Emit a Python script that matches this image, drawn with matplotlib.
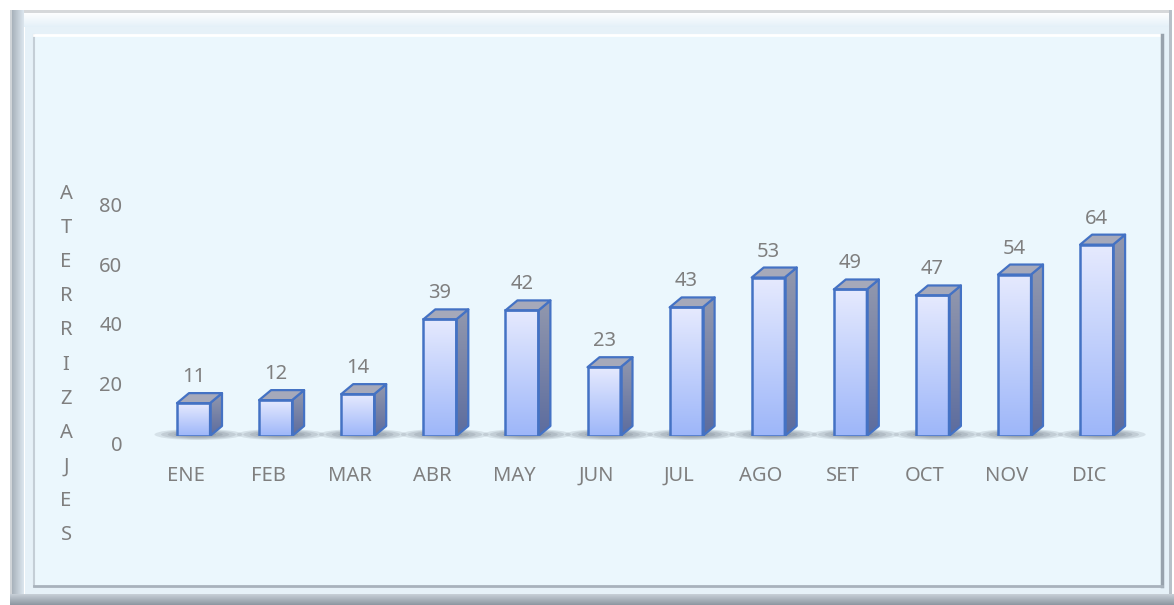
import numpy as np
import matplotlib
matplotlib.use('Agg')
import matplotlib.pyplot as plt
from matplotlib.patches import Rectangle, Polygon, Ellipse
from matplotlib.colors import LinearSegmentedColormap
from matplotlib.transforms import ScaledTranslation

meses = ['ENE', 'FEB', 'MAR', 'ABR', 'MAY', 'JUN', 'JUL', 'AGO', 'SET', 'OCT', 'NOV', 'DIC']
aterrizajes = [11, 12, 14, 39, 42, 23, 43, 53, 49, 47, 54, 64]
yticks = [0, 20, 40, 60, 80]
ylabel = 'ATERRIZAJES'

W, H = 1174, 605
plt.rcParams['font.family'] = ['Noto Sans', 'DejaVu Sans']
gris = '#7f7f7f'
borde = '#4472c4'
fs = 14.5

fig = plt.figure(figsize=(W / 100, H / 100), dpi=100, facecolor='white')

# background / frame, in pixel coords (y down)
bg = fig.add_axes([0, 0, 1, 1])
bg.axis('off')


def grad(ax, x0, x1, y0, y1, c0, c1, horizontal=False, z=1):
    cmap = LinearSegmentedColormap.from_list('g', [c0, c1])
    g = np.linspace(0, 1, 256)
    arr = g[None, :] if horizontal else g[:, None]
    return ax.imshow(arr, cmap=cmap, extent=(x0, x1, y1, y0), aspect='auto',
                     interpolation='bilinear', zorder=z)


bg.add_patch(Rectangle((10, 10), 1162, 595, fc='#e6f1f8', ec='none', zorder=0))
bg.add_patch(Rectangle((10, 10), 1162, 2.5, fc='#d6d8da', ec='none', zorder=2))
grad(bg, 10, 1172, 12.5, 27, '#ffffff', '#e4f0f8')
grad(bg, 10, 24, 10, 605, '#9ea8b2', '#dde7ef', horizontal=True, z=2)
bg.add_patch(Rectangle((10, 10), 1.5, 595, fc='#d0d4d8', ec='none', zorder=3))
grad(bg, 10, 1174, 594, 605, '#c8d0d8', '#8c96a0', z=3)
bg.add_patch(Rectangle((1169, 10), 3, 584, fc='#b8c0c8', ec='none', zorder=2))
bg.add_patch(Rectangle((24, 27), 1, 567, fc='#ffffff', ec='none', zorder=2))

# inner panel
bg.add_patch(Rectangle((34, 35), 1128, 551, fc='#ebf7fd', ec='none', zorder=4))
bg.plot([34, 34], [35, 586], color='#c4ced6', lw=1.5, zorder=5)
bg.plot([34, 1162], [35, 35], color='#ffffff', lw=2, zorder=5)
bg.plot([1162, 1162], [35, 586], color='#98a2ac', lw=2.5, zorder=5)
bg.plot([34, 1162], [586, 586], color='#a8b2bc', lw=2, zorder=5)
bg.set_xlim(0, W)
bg.set_ylim(H, 0)

for k, letra in enumerate(ylabel):
    bg.text(66, 194 + 34.1 * k, letra, ha='center', va='center', color=gris, fontsize=fs, zorder=6)

# main axes
ax_l, ax_w = 152.45, 985.2
ax_b, ax_h = 436, 239.2
ax = fig.add_axes([ax_l / W, (H - ax_b) / H, ax_w / W, ax_h / H])
ax.patch.set_alpha(0)
for s in ax.spines.values():
    s.set_visible(False)

pxx = ax_w / 12
pxy = ax_h / 80
bw = 33 / pxx
ddx = 12 / pxx
ddy = 10 / pxy

front_cmap = LinearSegmentedColormap.from_list('f', ['#e6eafe', '#9db6f9'])
side_cmap = LinearSegmentedColormap.from_list('s', ['#9298ae', '#5c6c9e'])
gv = np.linspace(0, 1, 256)[:, None]

for i, v in enumerate(aterrizajes):
    x0, x1 = i - bw / 2, i + bw / 2
    # soft shadow
    for f in [1.0, 0.85, 0.7, 0.55, 0.4]:
        ax.add_patch(Ellipse((i + 5 / pxx, 1.5 / pxy), 88 * f / pxx, 11 * f / pxy,
                             fc='#3a4252', ec='none', alpha=0.12, zorder=1, clip_on=False))
    ax.imshow(gv, cmap=front_cmap, extent=(x0, x1, 0, v), aspect='auto',
              interpolation='bilinear', zorder=3)
    side = Polygon([(x1, 0), (x1 + ddx, ddy), (x1 + ddx, v + ddy), (x1, v)], closed=True,
                   fc='none', ec=borde, lw=1.6, zorder=5, joinstyle='round')
    ax.add_patch(side)
    im = ax.imshow(gv, cmap=side_cmap, extent=(x1, x1 + ddx, 0, v + ddy), aspect='auto',
                   interpolation='bilinear', zorder=3)
    im.set_clip_path(side)
    ax.add_patch(Polygon([(x0, v), (x0 + ddx, v + ddy), (x1 + ddx, v + ddy), (x1, v)], closed=True,
                         fc='#a6a9ba', ec=borde, lw=1.6, zorder=5, joinstyle='round'))
    ax.add_patch(Rectangle((x0, 0), bw, v, fill=False, ec=borde, lw=1.8, zorder=6))
    ax.annotate(str(v), (i, v), xytext=(0, 26), textcoords='offset pixels',
                ha='center', va='center', color=gris, fontsize=fs)

ax.set_xlim(-0.5, 11.5)
ax.set_ylim(0, 80)

ax.set_yticks(yticks)
ax.set_yticklabels([str(t) for t in yticks])
ax.set_xticks(range(len(meses)))
ax.set_xticklabels(meses)
ax.tick_params(axis='y', length=0, pad=30 * 0.72, labelsize=fs, labelcolor=gris)
ax.tick_params(axis='x', length=0, pad=30 * 0.72, labelsize=fs, labelcolor=gris)
for lab in ax.get_yticklabels():
    lab.set_transform(lab.get_transform() + ScaledTranslation(0, -7.5 / 100, fig.dpi_scale_trans))
for lab in ax.get_xticklabels():
    lab.set_transform(lab.get_transform() + ScaledTranslation(-7.5 / 100, 0, fig.dpi_scale_trans))

fig.savefig('out.png', dpi=100)
